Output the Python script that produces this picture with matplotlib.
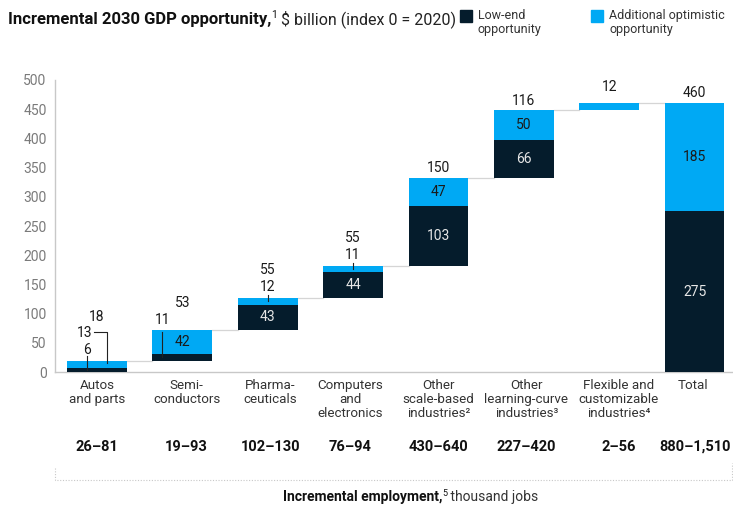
import numpy as np
import matplotlib
matplotlib.use('Agg')
import matplotlib.pyplot as plt
from matplotlib.patches import Rectangle
from matplotlib.lines import Line2D

plt.rcParams['font.family'] = ['Roboto', 'DejaVu Sans']

NAVY = '#051c2c'
CYAN = '#00a9f4'
GRID = '#c8c8c8'

# $ billion, incremental 2030 GDP by sector
categories = ['Autos\nand parts', 'Semi-\nconductors', 'Pharma-\nceuticals',
              'Computers\nand\nelectronics', 'Other\nscale-based\nindustries²',
              'Other\nlearning-curve\nindustries³', 'Flexible and\ncustomizable\nindustries⁴',
              'Total']
low_end = [6, 11, 43, 44, 103, 66, 0, 275]
optimistic = [13, 42, 12, 11, 47, 50, 12, 185]
totals = [18, 53, 55, 55, 150, 116, 12, 460]
employment = ['26–81', '19–93', '102–130', '76–94', '430–640', '227–420', '2–56', '880–1,510']

W, H = 733, 508
fig = plt.figure(figsize=(W / 100, H / 100), dpi=100)
ax = fig.add_axes([55 / W, 136 / H, 678 / W, 292 / H])


def fpx(x, y):
    # pixel position (from top-left) -> figure fraction
    return x / W, 1 - y / H


low = np.array(low_end, dtype=float)
opt = np.array(optimistic, dtype=float)
steps = low + opt
base = np.zeros(len(steps))
base[1:-1] = np.cumsum(steps[:-2])
tops = base + steps
x = np.arange(len(categories))
bw = 0.7

ax.bar(x, low, bottom=base, width=bw, color=NAVY, zorder=3)
ax.bar(x, opt, bottom=base + low, width=bw, color=CYAN, zorder=3)

# connectors between the floating bars
for i in range(len(x) - 1):
    ax.plot([x[i] + bw / 2, x[i + 1] - bw / 2], [tops[i], tops[i]],
            color='#d5d5d5', lw=0.9, zorder=2)

# category labels sit slightly off the bar centre in a couple of columns
label_x = x + np.array([0, 0.05, 0.03, -0.03, 0, 0.03, 0.11, -0.02])

ax.set_xlim(-0.49, 7.45)
ax.set_ylim(0, 500)
ax.set_yticks(np.arange(0, 501, 50))
ax.set_xticks(label_x)
ax.set_xticklabels(categories, fontsize=9.6, color='#333333', linespacing=1.08)
ax.tick_params(axis='y', length=0, pad=6, labelsize=10, labelcolor='#7a7a7a')
ax.tick_params(axis='x', length=0, pad=5)
for s in ['top', 'right']:
    ax.spines[s].set_visible(False)
for s in ['left', 'bottom']:
    ax.spines[s].set_color(GRID)
    ax.spines[s].set_linewidth(1)

u = 1 / 0.584  # data units per pixel

# values inside the segments
inner_low = [2, 3, 4, 5, 7]
inner_opt = [1, 4, 5, 7]
for i in inner_low:
    ax.text(x[i], base[i] + low[i] / 2, str(low_end[i]), ha='center', va='center',
            fontsize=10, color='#e6e6e6', zorder=4)
for i in inner_opt:
    ax.text(x[i], base[i] + low[i] + opt[i] / 2, str(optimistic[i]), ha='center',
            va='center', fontsize=10, color='#1a1a1a', zorder=4)

# totals above the bars
gaps = [44, 27, 28, 28, 10, 9, 16, 10]
for i in range(len(x)):
    ax.text(x[i], tops[i] + gaps[i] * u, str(totals[i]), ha='center', va='center',
            fontsize=10, color='#1a1a1a')

lc = dict(color='#222222', lw=0.8, zorder=5)

# Autos: small segments with callouts
xa = x[0] - 10 / 85.4
ax.text(xa, 22 * u, str(low_end[0]), ha='center', va='center', fontsize=10, color='#1a1a1a')
ax.plot([xa, xa], [16 * u, low[0] * 0.6], **lc)
xb = x[0] - 12 / 85.4
ax.text(xb, 39 * u, str(optimistic[0]), ha='center', va='center', fontsize=10, color='#1a1a1a')
xc = x[0] + 10 / 85.4
ax.plot([x[0] - 3 / 85.4, xc, xc], [40 * u, 40 * u, low[0] + opt[0] * 0.7], **lc)

# Semiconductors: low-end callout
xs = x[1] - 20 / 85.4
ax.text(xs, tops[1] + 10 * u, str(low_end[1]), ha='center', va='center', fontsize=10,
        color='#1a1a1a')
ax.plot([xs, xs], [tops[1] - 2 * u, base[1] + low[1] * 0.6], **lc)

# Pharma / computers: optimistic callouts
for i in [2, 3]:
    ax.text(x[i], tops[i] + 11 * u, str(optimistic[i]), ha='center', va='center',
            fontsize=10, color='#1a1a1a')
    ax.plot([x[i], x[i]], [tops[i] + 3 * u, tops[i] - 3.5 * u], **lc)

# employment row
row = matplotlib.transforms.blended_transform_factory(ax.transData, fig.transFigure)
for i, e in enumerate(employment):
    fig.text(label_x[i] + (0.03 if i == 7 else 0), 1 - 447 / H, e, transform=row,
             ha='center', va='center', fontsize=10.5, fontweight='bold', color='#111111')

bx = [55, 55, 732, 732]
by = [468, 480, 480, 463]
fig.add_artist(Line2D([fpx(a, b)[0] for a, b in zip(bx, by)],
                      [fpx(a, b)[1] for a, b in zip(bx, by)],
                      transform=fig.transFigure, color='#c8c8c8', lw=0.8,
                      linestyle=(0, (1, 1.5))))

renderer = fig.canvas.get_renderer()


def chain(parts, x0, y0):
    # draw a run of text pieces on one baseline
    xp = x0
    for txt, kw, rise in parts:
        t = fig.text(xp / W, 1 - (y0 - rise) / H, txt, va='baseline', ha='left', **kw)
        xp = t.get_window_extent(renderer).x1
    return xp


chain([('Incremental 2030 GDP opportunity,', dict(fontsize=12, fontweight='bold', color='#111111'), 0),
       ('1', dict(fontsize=7.5, color='#111111'), 6),
       (' $ billion (index 0 = 2020)', dict(fontsize=11.5, color='#222222'), 0)],
      8, 24)

chain([('Incremental employment,', dict(fontsize=10, fontweight='bold', color='#111111'), 0),
       ('5', dict(fontsize=6.5, color='#111111'), 5),
       (' thousand jobs', dict(fontsize=10, color='#333333'), 0)],
      283, 501)

# legend
for xl, col, lab in [(460, NAVY, 'Low-end\nopportunity'),
                     (591, CYAN, 'Additional optimistic\nopportunity')]:
    fig.add_artist(Rectangle(fpx(xl, 22), 12 / W, 12 / H, transform=fig.transFigure,
                             color=col))
    fig.text(*fpx(xl + 18, 9), lab, ha='left', va='top', fontsize=9, color='#333333',
             linespacing=1.15)

fig.savefig('out.png', dpi=100)
